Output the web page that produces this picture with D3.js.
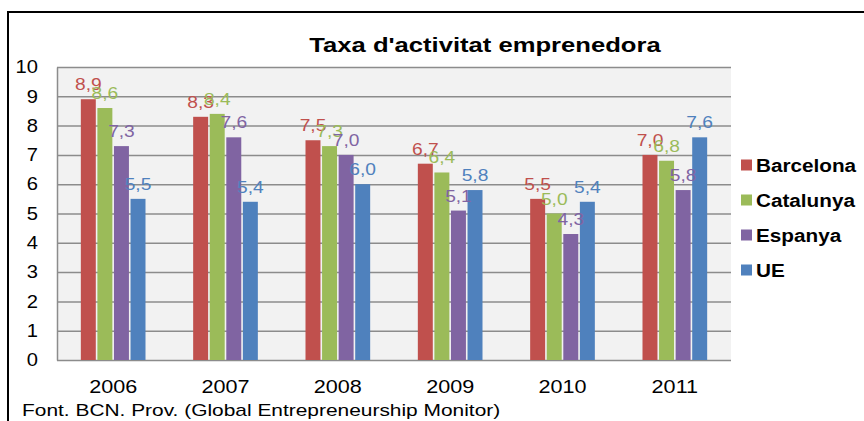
<!DOCTYPE html>
<html>
<head>
<meta charset="utf-8">
<script src="https://cdn.jsdelivr.net/npm/d3@7"></script>
<style>
  body { margin: 0; background: #fff; }
  svg { display: block; font-family: "Liberation Sans", Arial, sans-serif; }
</style>
</head>
<body>
<div id="chart-area"></div>
<script>
// data
var years = ["2006", "2007", "2008", "2009", "2010", "2011"];
var seriesNames = ["Barcelona", "Catalunya", "Espanya", "UE"];
var barcelona = [8.9, 8.3, 7.5, 6.7, 5.5, 7.0];
var catalunya = [8.6, 8.4, 7.3, 6.4, 5.0, 6.8];
var espanya = [7.3, 7.6, 7.0, 5.1, 4.3, 5.8];
var ue = [5.5, 5.4, 6.0, 5.8, 5.4, 7.6];
var yTicks = [0, 1, 2, 3, 4, 5, 6, 7, 8, 9, 10];
var colors = ["#C0504D", "#9BBB59", "#8064A2", "#4F81BD"];

var allSeries = [barcelona, catalunya, espanya, ue];

var svgWidth = 864, svgHeight = 421;
var plot = { left: 57, right: 731, top: 67, bottom: 360 };
var sx = 1.2; // text in the picture is stretched sideways

var svg = d3.select("#chart-area").append("svg")
  .attr("width", svgWidth)
  .attr("height", svgHeight);

// outer frame
svg.append("rect")
  .attr("x", 8).attr("y", 12)
  .attr("width", 900).attr("height", 500)
  .attr("fill", "#fff")
  .attr("stroke", "#000")
  .attr("stroke-width", 2);

function label(g, x, y, s, k) {
  return g.append("text")
    .attr("transform", "translate(" + x + "," + y + ") scale(" + (k || sx) + ",1)")
    .text(s);
}

var x0 = d3.scaleBand()
  .domain(years)
  .range([plot.left, plot.right])
  .paddingInner(0.41)
  .paddingOuter(0.205);

var x1 = d3.scaleBand()
  .domain(seriesNames)
  .range([0, x0.bandwidth()]);

var y = d3.scaleLinear()
  .domain([0, 10])
  .range([plot.bottom, plot.top]);

// plot background
svg.append("rect")
  .attr("x", plot.left).attr("y", plot.top)
  .attr("width", plot.right - plot.left)
  .attr("height", plot.bottom - plot.top)
  .attr("fill", "#f2f2f2");

// y axis + gridlines
var yAxis = svg.append("g")
  .attr("transform", "translate(" + plot.left + ",0)")
  .call(d3.axisLeft(y)
    .tickValues(yTicks)
    .tickSize(-(plot.right - plot.left))
    .tickSizeOuter(0)
    .tickPadding(17)
    .tickFormat(d3.format("d")));

yAxis.select(".domain").attr("stroke", "#8c8c8c").attr("stroke-width", 1.5);
yAxis.selectAll(".tick line").attr("stroke", "#8c8c8c").attr("stroke-width", 1.5);
yAxis.selectAll(".tick text")
  .attr("font-size", 18)
  .attr("fill", "#000")
  .attr("font-family", "Liberation Sans, Arial, sans-serif")
  .attr("transform", "scale(1.12,1)");

// bars
var groups = svg.append("g")
  .selectAll("g")
  .data(years)
  .join("g")
    .attr("transform", d => "translate(" + x0(d) + ",0)");

groups.selectAll("rect")
  .data((d, i) => seriesNames.map((s, j) => ({ s: s, j: j, v: allSeries[j][i] })))
  .join("rect")
    .attr("x", d => x1(d.s) + 0.8)
    .attr("y", d => y(d.v))
    .attr("width", x1.bandwidth() - 1.6)
    .attr("height", d => y(0) - y(d.v))
    .attr("fill", d => colors[d.j]);

// value labels
groups.each(function(yr, i) {
  var g = d3.select(this);
  seriesNames.forEach(function(s, j) {
    var v = allSeries[j][i];
    label(g, x1(s) + x1.bandwidth() / 2, y(v) - 9, v.toFixed(1).replace(".", ","))
      .attr("text-anchor", "middle")
      .attr("font-size", 16)
      .attr("fill", colors[j]);
  });
});

// x axis
var xAxis = svg.append("g")
  .attr("transform", "translate(0," + plot.bottom + ")")
  .call(d3.axisBottom(x0).tickSize(0).tickPadding(20));
xAxis.select(".domain").remove();
xAxis.selectAll(".tick text")
  .attr("font-size", 18)
  .attr("fill", "#000")
  .attr("font-family", "Liberation Sans, Arial, sans-serif")
  .attr("transform", "scale(" + sx + ",1)");

// title
label(svg, 485, 52, "Taxa d'activitat emprenedora", 1.22)
  .attr("text-anchor", "middle")
  .attr("font-size", 21)
  .attr("font-weight", "bold");

// legend
var legend = svg.append("g").attr("transform", "translate(741,165)");
seriesNames.forEach(function(s, j) {
  legend.append("rect")
    .attr("x", 0).attr("y", j * 35 - 5.5)
    .attr("width", 11).attr("height", 11)
    .attr("fill", colors[j]);
  label(legend, 15, j * 35 + 6.5, s, 1.12)
    .attr("font-size", 18.5)
    .attr("font-weight", "bold");
});

// source
label(svg, 22, 416, "Font. BCN. Prov. (Global Entrepreneurship Monitor)", 1.23)
  .attr("font-size", 17);
</script>
</body>
</html>
